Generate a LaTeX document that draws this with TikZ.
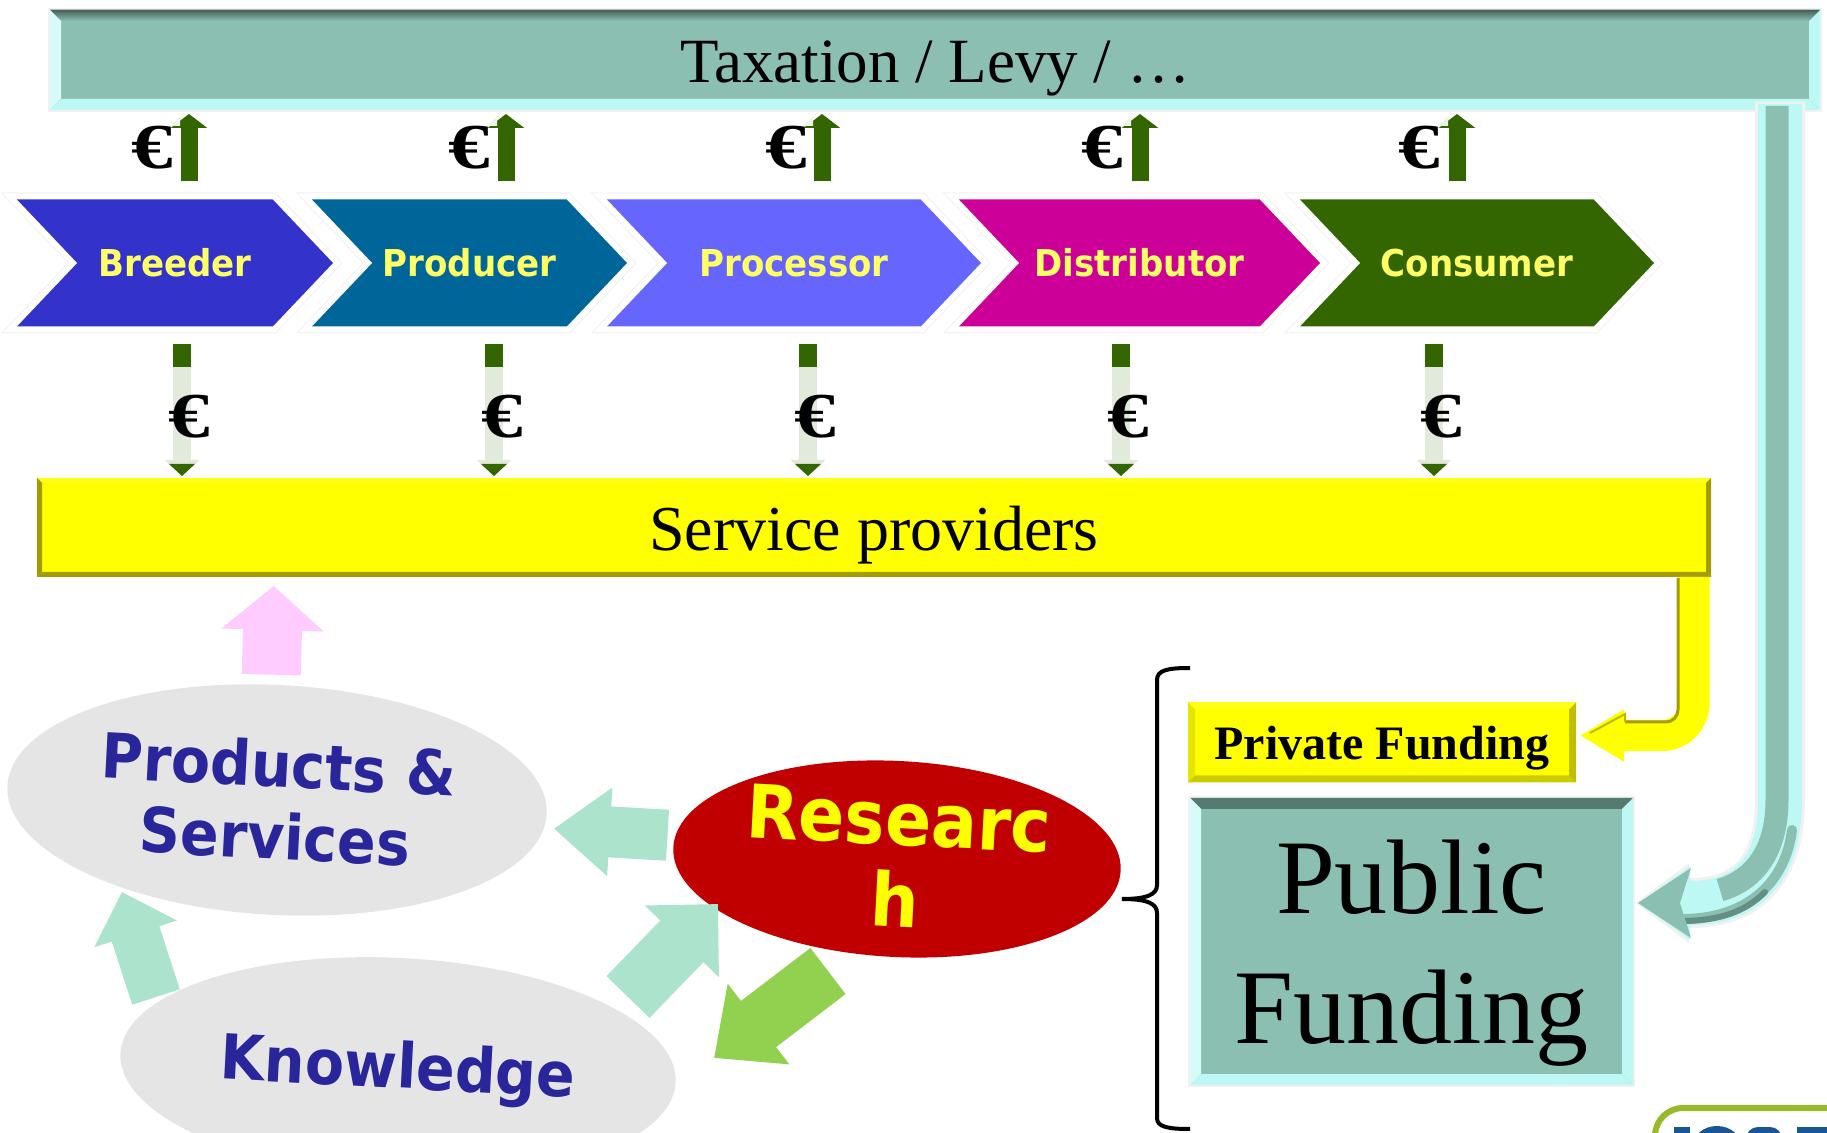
\documentclass[tikz,border=0pt]{standalone}
\usepackage{fontspec}
\setmainfont{Liberation Serif}
\newfontfamily\labelfont[FakeStretch=0.92]{DejaVu Sans}
\usetikzlibrary{arrows.meta,calc,shapes.geometric,shapes.symbols}
\definecolor{pureyellow}{HTML}{FFFF00}
\definecolor{tealbar}{HTML}{8BBFB2}
\definecolor{tealdark}{HTML}{557A6F}
\definecolor{tealedge}{HTML}{BDF8F5}
\definecolor{halogray}{HTML}{F1F1F1}
\definecolor{olivedark}{HTML}{A39C00}
\definecolor{moneygreen}{HTML}{336600}
\definecolor{moneypale}{HTML}{E2EADC}
\definecolor{mintarrow}{HTML}{ABE3CC}
\definecolor{pinkarrow}{HTML}{FFCCFF}
\definecolor{greenarrow}{HTML}{92D050}
\definecolor{ovalgray}{HTML}{E5E5E5}
\definecolor{ovaltext}{HTML}{29259B}
\definecolor{ovalred}{HTML}{C00000}
\definecolor{labelyellow}{HTML}{FFFF66}
\definecolor{breederblue}{HTML}{3333CC}
\definecolor{producerblue}{HTML}{006699}
\definecolor{processorblue}{HTML}{6666FF}
\definecolor{distributorpink}{HTML}{CC0099}
\definecolor{logogreen}{HTML}{99BA28}
\definecolor{logoblue}{HTML}{1A5596}
\tikzset{
  chevron/.style={signal, signal from=west, signal to=east, signal pointer angle=93,
    minimum height=63.5pt, inner sep=0pt, outer sep=0pt, text=labelyellow,
    font=\labelfont\bfseries\fontsize{18.5}{20}\selectfont,
    preaction={draw=halogray, line width=7pt}, preaction={draw=white, line width=6pt}},
  barbox/.style={rectangle, inner sep=0pt, outer sep=0pt, text depth=0pt, align=center},
  oval/.style={ellipse, inner sep=0pt, outer sep=0pt, rotate=-3, align=center, fill=ovalgray,
    text=ovaltext, font=\labelfont\bfseries\fontsize{31}{36}\selectfont},
  euro/.style={font=\bfseries\fontsize{32}{32}\selectfont, xscale=1.3, inner sep=0pt},
  moneyup/.style={moneygreen, line width=8.5pt, shorten <=9pt, shorten >=2pt, -{Triangle[length=7pt,width=18pt]}},
  fatarrow/.style={line width=#1, line cap=butt}
}
% bevel round a box: node, depth, top, left, bottom, right
\newcommand{\bevel}[6]{
  \coordinate (nw) at (#1.north west); \coordinate (ne) at (#1.north east);
  \coordinate (sw) at (#1.south west); \coordinate (se) at (#1.south east);
  \fill[#3] (nw) -- (ne) -- ($(ne)+(-#2,#2)$) -- ($(nw)+(#2,#2)$) -- cycle;
  \fill[#4] (nw) -- (sw) -- ($(sw)+(#2,-#2)$) -- ($(nw)+(#2,#2)$) -- cycle;
  \fill[#5] (sw) -- (se) -- ($(se)+(-#2,-#2)$) -- ($(sw)+(#2,-#2)$) -- cycle;
  \fill[#6] (ne) -- (se) -- ($(se)+(-#2,-#2)$) -- ($(ne)+(-#2,#2)$) -- cycle;
}
\begin{document}
\begin{tikzpicture}[x=0.5pt,y=-0.5pt]
\clip (0,0) rectangle (1827,1133);

% top and service bars
\node[barbox, fill=tealbar, draw=halogray, line width=2pt, text height=22.5pt, minimum width=885pt, minimum height=50pt,
  font=\fontsize{31.5}{31.5}\selectfont] (tax) at (935,60) {Taxation / Levy / \dots};
\bevel{tax}{11}{top color=tealdark!80!black, bottom color=tealbar}{tealedge!60!white}{tealedge}{tealedge}
\node[barbox, fill=pureyellow, text height=23.5pt, minimum width=837pt, minimum height=49.5pt,
  font=\fontsize{32}{32}\selectfont] (service) at (874,527.5) {Service providers};
\bevel{service}{5}{pureyellow!90!white}{olivedark}{olivedark}{olivedark}

% chain
\node[chevron, fill=breederblue, minimum width=158pt] (breeder) at (175,263) {Breeder};
\node[chevron, fill=producerblue, minimum width=157.5pt] (producer) at (469.5,263) {Producer};
\node[chevron, fill=processorblue, minimum width=187pt] (processor) at (794,263) {Processor};
\node[chevron, fill=distributorpink, minimum width=180.5pt] (distributor) at (1139.5,263) {Distributor};
\node[chevron, fill=moneygreen, minimum width=177pt] (consumer) at (1477,263) {Consumer};

% money up and down
\foreach \name/\ux/\ex/\dx/\fx in {breeder/189/152/182/189, producer/506/469/494/502, processor/822/786/808/815,
  distributor/1140/1102/1121/1128, consumer/1457/1419/1434/1441}{
  \draw[moneyup] (\name.north -| \ux,0) -- (tax.south -| \ux,0);
  \fill[moneypale!60!white] (\ux-19,126) -- (\ux-1,109) -- (\ux-9,118) -- (\ux-9,126) -- cycle;
  \draw[moneypale, line width=9pt, shorten <=9pt, shorten >=1pt, -{Triangle[length=8pt,width=17pt]}] (\name.south -| \dx,0) -- (service.north -| \dx,0);
  \fill[moneygreen] (\dx-9,344) rectangle (\dx+9,367);
  \fill[moneygreen] (\dx-13,464) -- (\dx+13,464) -- (\dx,476) -- cycle;
  \node[euro] (up\name) at (\ex,148) {€};
  \node[euro] (down\name) at (\fx,417) {€};
}

% funding boxes
\node[barbox, fill=pureyellow, minimum width=194pt, minimum height=40pt,
  font=\bfseries\fontsize{24}{24}\selectfont] (private) at (1382,742.5) {Private Funding};
\bevel{private}{7}{pureyellow!90!white}{pureyellow!90!black}{pureyellow!80!black}{pureyellow!75!black}
\node[barbox, fill=tealbar, draw=halogray, line width=2pt, minimum width=221.5pt, minimum height=143.5pt,
  font=\fontsize{53}{65}\selectfont] (public) at (1411.5,941.5) {Public\\Funding};
\bevel{public}{11}{tealdark}{tealedge!60!white}{tealedge}{tealedge}

% levy pipe
\draw[halogray, line width=25pt, -{Triangle[length=27pt,width=38pt]}] ([yshift=4pt]tax.south -| 1780,0) -- (1780,800)
  .. controls (1780,872) and (1745,903) .. (1691,903) -- ([xshift=1pt,yshift=19.25pt]public.east);
\draw[tealedge, line width=22pt, -{Triangle[length=26pt,width=35pt]}] ([yshift=3pt]tax.south -| 1780,0) -- (1780,800)
  .. controls (1780,872) and (1745,903) .. (1691,903) -- ([xshift=2.5pt,yshift=19.25pt]public.east);
\draw[tealbar, line width=11.5pt, line cap=butt] (1777,106) -- (1777,800) .. controls (1777,850) and (1755,880) .. (1720,890);
\draw[tealbar, line width=5pt, line cap=round] (1792,830) .. controls (1785,885) and (1745,918) .. (1685,919);
\draw[tealdark!70!tealbar, line width=3pt, line cap=round] (1765,892) .. controls (1745,912) and (1720,920) .. (1685,921);
\fill[tealbar] (1638,903) -- (1691,868) -- (1680,903) -- (1691,938) -- cycle;

% private pipe
\draw[pureyellow, line width=15.5pt, rounded corners=16pt, shorten >=2pt, -{Triangle[length=22pt,width=24.5pt]}]
  (service.south -| 1694,0) |- ([yshift=3.5pt]private.east);
\draw[olivedark, line width=1.5pt, rounded corners=6pt] (1678,578) |- (1625,722);
\draw[olivedark!70!pureyellow, line width=1pt] (1590,733) -- (1625,714) -- (1625,722);

% the ovals
\node[oval, minimum width=270pt, minimum height=115pt] (products) at (277,800) {Products \&\\Services};
\node[oval, text depth=3.5pt, minimum width=278pt, minimum height=110pt] (knowledge) at (398,1068) {Knowledge};
\node[oval, inner sep=-3pt, fill=ovalred, text=pureyellow, minimum width=224pt, minimum height=98pt,
  font=\labelfont\bfseries\fontsize{37}{41}\selectfont] (research) at (897,859) {Researc\\h};

% fat arrows
\coordinate (pinkend) at (274,578);
\draw[fatarrow=29.5pt, pinkarrow, shorten <=5pt, shorten >=4pt, -{Triangle[length=22pt,width=50pt]}] (products.96) -- (pinkend);
\draw[fatarrow=25.5pt, mintarrow, shorten <=4pt, shorten >=5pt, -{Triangle[length=28pt,width=42.5pt]}] (research.177) -- (products.-3.4);
\coordinate (knowfrom) at (156,997);
\coordinate (prodto) at (122,892);
\draw[fatarrow=25pt, mintarrow, -{Triangle[length=22pt,width=42pt]}] (knowfrom) -- (prodto);
\coordinate (knowout) at (628,997);
\coordinate (resin) at (718,904);
\draw[fatarrow=30pt, mintarrow, -{Triangle[length=26pt,width=50pt]}] (knowout) -- (resin);
\coordinate (resout) at (828,971);
\coordinate (knowin) at (714,1058);
\draw[fatarrow=29pt, greenarrow, -{Triangle[length=28pt,width=49pt]}] (resout) -- (knowin);

% brace
\draw[line width=2pt] (1190,668) .. controls (1168,668) and (1157,670) .. (1157,680) -- (1157,885)
  .. controls (1157,895) and (1146,899) .. (1122,899) .. controls (1146,899) and (1157,903) .. (1157,913)
  -- (1157,1118) .. controls (1157,1127) and (1168,1129) .. (1190,1129);

% logo corner
\draw[line width=3pt, logogreen, rounded corners=14pt] (1655,1140) |- (1840,1108);
\fill[logoblue] (1674,1127) rectangle (1690,1140);
\fill[logoblue] (1717,1146) ellipse [x radius=24, y radius=20];
\fill[logoblue, rounded corners=6pt] (1746,1127) rectangle (1782,1150);
\fill[logoblue] (1797,1127) rectangle (1830,1140);
\end{tikzpicture}
\end{document}
